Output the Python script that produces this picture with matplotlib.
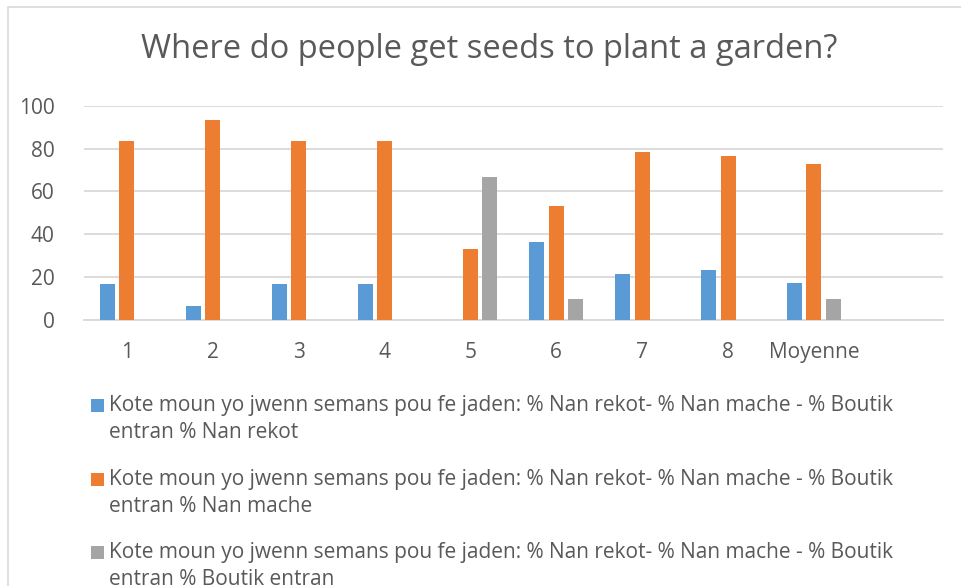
import matplotlib
matplotlib.use("Agg")
import matplotlib.pyplot as plt
from matplotlib.patches import Rectangle
import numpy as np

plt.rcParams['font.family'] = ['Open Sans', 'DejaVu Sans']

title = "Where do people get seeds to plant a garden?"
categories = ["1", "2", "3", "4", "5", "6", "7", "8", "Moyenne", ""]
series_names = [
    "Kote moun yo jwenn semans pou fe jaden: % Nan rekot- % Nan mache - % Boutik\nentran % Nan rekot",
    "Kote moun yo jwenn semans pou fe jaden: % Nan rekot- % Nan mache - % Boutik\nentran % Nan mache",
    "Kote moun yo jwenn semans pou fe jaden: % Nan rekot- % Nan mache - % Boutik\nentran % Boutik entran",
]
nan_rekot = [16.7, 6.7, 16.7, 16.7, 0, 36.4, 21.4, 23.3, 17.1, 0]
nan_mache = [83.3, 93.3, 83.3, 83.3, 33.3, 53.2, 78.6, 76.7, 72.9, 0]
boutik_entran = [0, 0, 0, 0, 66.7, 9.8, 0, 0, 9.6, 0]
yticks = [0, 20, 40, 60, 80, 100]

colors = ["#5B9BD5", "#ED7D31", "#A5A5A5"]
text_color = "#595959"
grid_color = "#D9D9D9"

W, H = 962, 586
fig = plt.figure(figsize=(W / 100, H / 100), dpi=100)

# chart border
fig.patches.append(Rectangle((8 / W, -0.1), 2.0, 1 - 7 / H + 0.1, transform=fig.transFigure,
                             fill=False, edgecolor="#D9D9D9", linewidth=1.2))

ax = fig.add_axes([84 / W, 1 - 320 / H, (942.7 - 84) / W, (320 - 105.7) / H])
x = np.arange(len(categories))
bw = 0.175
step = 0.227
for i, (vals, c) in enumerate(zip([nan_rekot, nan_mache, boutik_entran], colors)):
    ax.bar(x + (i - 1) * step, vals, width=bw, color=c, linewidth=0, zorder=3)

ax.set_xlim(-0.5, len(categories) - 0.5)
ax.set_ylim(0, 100)
ax.set_yticks(yticks)
ax.set_xticks(x)
ax.set_xticklabels(categories)
ax.yaxis.grid(True, color=grid_color, linewidth=1.3, zorder=0)
for s in ["top", "right", "left"]:
    ax.spines[s].set_visible(False)
ax.spines["bottom"].set_color(grid_color)
ax.spines["bottom"].set_linewidth(1.3)
ax.tick_params(axis="both", length=0, colors=text_color, labelsize=15)
ax.tick_params(axis="x", pad=16)
ax.tick_params(axis="y", pad=21)

fig.text(489 / W, 1 - 50 / H, title, ha="center", va="center", fontsize=23.5, color=text_color)

# legend
leg_base = [411, 485, 558]
for name, c, yy in zip(series_names, colors, leg_base):
    fig.patches.append(Rectangle((91 / W, 1 - 412 / H + (411 - yy) / H), 13 / W, 13.5 / H,
                                 transform=fig.transFigure, facecolor=c, edgecolor="none"))
    for k, line in enumerate(name.split("\n")):
        fig.text(109 / W, 1 - (yy + 27 * k) / H, line, ha="left", va="baseline",
                 fontsize=15, color=text_color)

fig.savefig("out.png", dpi=100)
